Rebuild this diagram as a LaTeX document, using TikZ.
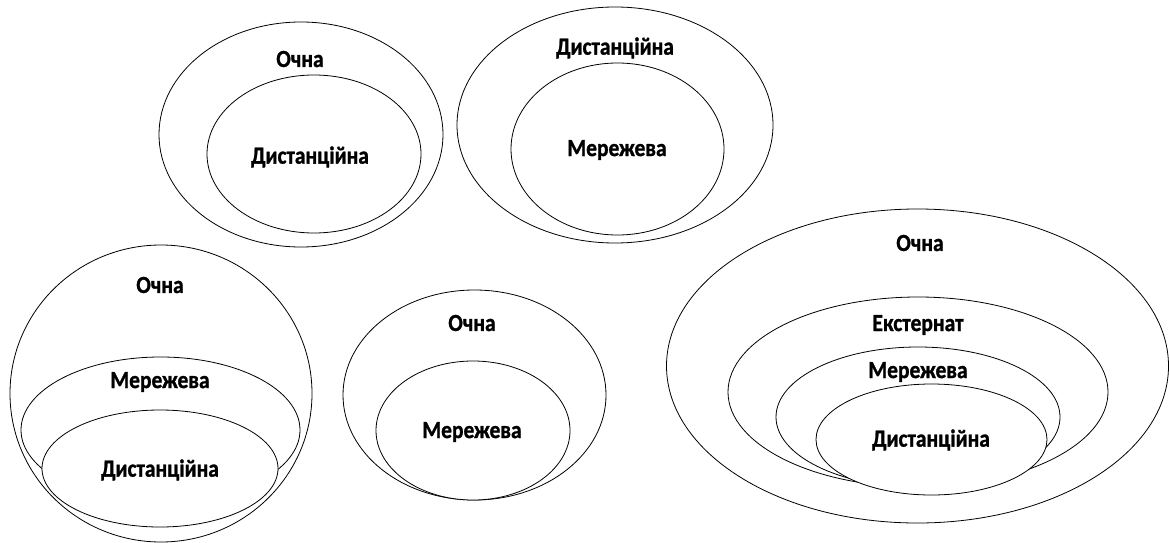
\documentclass[tikz,border=0pt]{standalone}
\usepackage{fontspec}
\setmainfont{Carlito}[BoldFeatures={FakeBold=1.2}]
\newcommand{\tallbox}[1]{\scalebox{1}[1.14]{#1}}
\begin{document}
\begin{tikzpicture}[x=1pt,y=-1pt,
  ell/.style={draw=black, fill=white, line width=0.8pt},
  lbl/.style={font=\bfseries\fontsize{21.5}{26}\selectfont, inner sep=0pt, anchor=center}]
\useasboundingbox[fill=white] (0,0) rectangle (1169,543);
% top-left group
\draw[ell] (301,134.5) ellipse [x radius=142pt, y radius=112.5pt];
\draw[ell] (314,154) ellipse [x radius=107pt, y radius=79pt];
\node[lbl] (a1) at (300,59) {\tallbox{Очна}};
\node[lbl] (a2) at (310,157) {\tallbox{Дистанційна}};
% top-middle group
\draw[ell] (615,125) ellipse [x radius=158pt, y radius=118pt];
\draw[ell] (617.5,149) ellipse [x radius=106.5pt, y radius=86pt];
\node[lbl] (b1) at (615,48) {\tallbox{Дистанційна}};
\node[lbl] (b2) at (617,150) {\tallbox{Мережева}};
% bottom-left group
\draw[ell] (161,393.5) ellipse [x radius=151pt, y radius=148.5pt];
\draw[ell] (160.5,430) ellipse [x radius=139.5pt, y radius=73pt];
\draw[ell] (160,468.5) ellipse [x radius=118pt, y radius=58.5pt];
\node[lbl] (c1) at (160,285) {\tallbox{Очна}};
\node[lbl] (c2) at (160,382) {\tallbox{Мережева}};
\node[lbl] (c3) at (160,470) {\tallbox{Дистанційна}};
% bottom-middle group
\draw[ell] (474.5,395) ellipse [x radius=131.5pt, y radius=105pt];
\draw[ell] (473,430.5) ellipse [x radius=97pt, y radius=69.5pt];
\node[lbl] (d1) at (472,323) {\tallbox{Очна}};
\node[lbl] (d2) at (472,432) {\tallbox{Мережева}};
% right group
\draw[ell] (917.5,366) ellipse [x radius=251pt, y radius=157pt];
\draw[ell] (918,392) ellipse [x radius=190pt, y radius=95pt];
\draw[ell] (918,417) ellipse [x radius=142pt, y radius=70pt];
\draw[ell] (931.5,439.5) ellipse [x radius=115.5pt, y radius=55.5pt];
\node[lbl] (e1) at (920,243) {\tallbox{Очна}};
\node[lbl] (e2) at (918,325) {\tallbox{Екстернат}};
\node[lbl] (e3) at (918,372) {\tallbox{Мережева}};
\node[lbl] (e4) at (931,440) {\tallbox{Дистанційна}};
\end{tikzpicture}
\end{document}
